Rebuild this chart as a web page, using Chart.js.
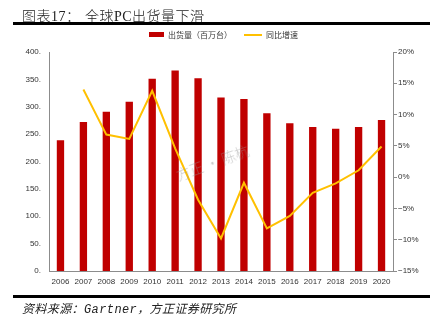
<!DOCTYPE html>
<html>
<head>
<meta charset="utf-8">
<script src="https://cdn.jsdelivr.net/npm/chart.js@4/dist/chart.umd.min.js"></script>
<style>
  body { margin: 0; background: #fff; }
  #wrap { position: relative; width: 446px; height: 329px; overflow: hidden; }
  #chart { position: absolute; left: 0; top: 0; }
  .title { position: absolute; top: 5px; font: 300 14px "Liberation Serif", "Noto Sans CJK SC"; color: #222; white-space: nowrap; letter-spacing: 0.5px; }
  .rule { position: absolute; left: 13px; width: 417px; height: 3px; background: #000; }
  .legend { position: absolute; top: 29px; font: 8px "Noto Sans CJK SC"; color: #333; white-space: nowrap; }
  .footer { position: absolute; left: 22px; top: 299px; font: italic 12px "Liberation Mono", "Noto Sans CJK SC"; color: #222; white-space: nowrap; letter-spacing: 0.4px; }
  .mark { position: absolute; left: 174px; top: 152px; font: 300 14px "Noto Sans CJK SC"; color: rgba(150,150,150,0.5); transform: rotate(-20deg); white-space: nowrap; }
</style>
</head>
<body>
<div id="wrap">
  <canvas id="chart" width="446" height="329"></canvas>
  <div class="title" style="left:22px">图表17：</div>
  <div class="title" style="left:85px">全球PC出货量下滑</div>
  <div class="rule" style="top:22px"></div>
  <div style="position:absolute;left:149px;top:32px;width:15px;height:5px;background:#C00000"></div>
  <div class="legend" style="left:168px">出货量（百万台）</div>
  <div style="position:absolute;left:244px;top:34px;width:18px;height:2px;background:#FFC000"></div>
  <div class="legend" style="left:266px">同比增速</div>
  <div class="mark">方正 · 陈杭</div>
  <div class="rule" style="top:295px"></div>
  <div class="footer">资料来源：Gartner，方正证券研究所</div>
</div>
<script>
// data
const years = ["2006", "2007", "2008", "2009", "2010", "2011", "2012", "2013",
  "2014", "2015", "2016", "2017", "2018", "2019", "2020"];
const shipments = [239, 272, 291, 309, 351, 366, 352, 317, 314, 288, 270, 263, 260, 263, 276];
const growth = [null, 14.0, 6.8, 6.1, 13.8, 4.6, -3.6, -9.8, -0.9, -8.2, -6.2, -2.5, -1.0, 1.1, 4.9];
const leftTicks = [0, 400, 50];
const rightTicks = [-15, 20, 5];

const tickFont = { family: "Liberation Sans", size: 8 };
const axisGrey = "#8c8c8c";

new Chart("chart", {
  type: "bar",
  data: {
    labels: years,
    datasets: [
      {
        type: "line",
        label: "同比增速",
        data: growth,
        yAxisID: "y1",
        borderColor: "#FFC000",
        borderWidth: 2,
        pointRadius: 0,
        tension: 0,
        order: 0,
      },
      {
        label: "出货量（百万台）",
        data: shipments,
        yAxisID: "y",
        backgroundColor: "#C00000",
        barPercentage: 0.32,
        categoryPercentage: 1,
        order: 1,
      },
    ],
  },
  options: {
    responsive: false,
    animation: false,
    layout: { padding: { top: 52, bottom: 38, left: 0, right: 0 } },
    plugins: {
      legend: { display: false },
      tooltip: { enabled: false },
    },
    scales: {
      x: {
        grid: { display: false, drawTicks: false },
        border: { color: axisGrey },
        ticks: { font: tickFont, color: "#333", padding: 6, maxRotation: 0, autoSkip: false },
        afterFit: (s) => { s.height = 20; },
      },
      y: {
        position: "left",
        min: leftTicks[0],
        max: leftTicks[1],
        grid: { display: false, drawOnChartArea: false, drawTicks: true, tickLength: 4, color: axisGrey },
        border: { color: axisGrey },
        ticks: {
          stepSize: leftTicks[2],
          font: tickFont,
          color: "#333",
          padding: 4,
          callback: (v) => v + ".",
        },
        afterFit: (s) => { s.width = 49; },
      },
      y1: {
        position: "right",
        min: rightTicks[0],
        max: rightTicks[1],
        grid: { display: true, drawOnChartArea: false, drawTicks: true, tickLength: 4, color: axisGrey },
        border: { color: axisGrey },
        ticks: {
          stepSize: rightTicks[2],
          font: tickFont,
          color: "#333",
          padding: 1,
          callback: (v) => (v < 0 ? "\u2212" + Math.abs(v) : v) + "%",
        },
        afterFit: (s) => { s.width = 53; },
      },
    },
  },
});
</script>
</body>
</html>
